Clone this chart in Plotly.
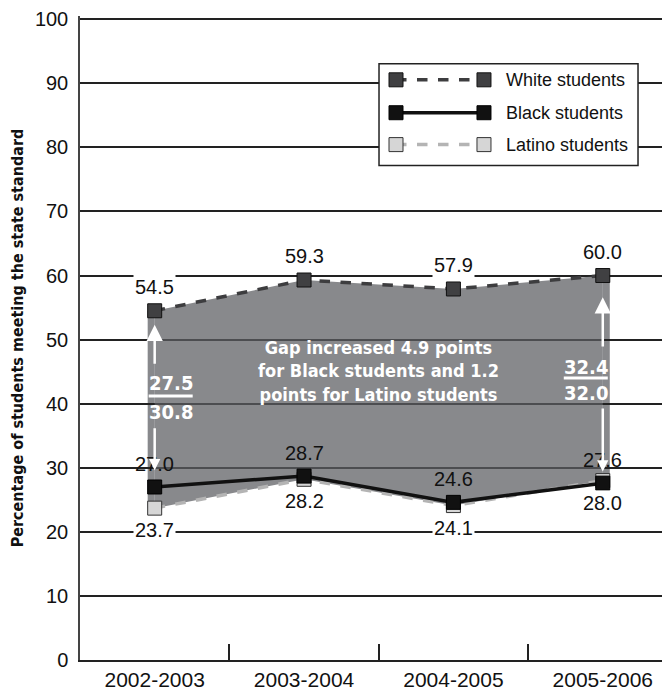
import plotly.graph_objects as go

years = ["2002-2003", "2003-2004", "2004-2005", "2005-2006"]
white = [54.5, 59.3, 57.9, 60.0]
black = [27.0, 28.7, 24.6, 27.6]
latino = [23.7, 28.2, 24.1, 28.0]
series_names = ["White students", "Black students", "Latino students"]
gap_first = ["27.5", "30.8"]
gap_last = ["32.4", "32.0"]
note = "Gap increased 4.9 points<br>for Black students and 1.2<br>points for Latino students"

num_font = "Liberation Sans, Arial, sans-serif"
cond_font = "DejaVu Sans Condensed, Liberation Sans Narrow, Liberation Sans, sans-serif"

fill_col = "rgba(92,93,98,0.73)"
styles = {
    "White students": dict(line="#3d3d3f", dash="dash", mk="#404042", edge="#111111"),
    "Black students": dict(line="#111111", dash="solid", mk="#111111", edge="#000000"),
    "Latino students": dict(line="#b4b4b4", dash="dash", mk="#d6d6d6", edge="#333333"),
}

fig = go.Figure()

# shaded gap between White and Latino lines
fig.add_trace(go.Scatter(
    x=years + years[::-1], y=white + latino[::-1],
    fill="toself", fillcolor=fill_col, mode="none",
    showlegend=False, hoverinfo="skip"))

for name, vals in [("Latino students", latino), ("Black students", black),
                   ("White students", white)]:
    s = styles[name]
    fig.add_trace(go.Scatter(
        x=years, y=vals, name=name, mode="lines+markers", showlegend=False,
        line=dict(color=s["line"], width=3.5, dash=s["dash"]),
        marker=dict(symbol="square", size=14, color=s["mk"],
                    line=dict(color=s["edge"], width=1))))

ann = []
for yr, v in zip(years, white):
    ann.append(dict(x=yr, y=v, text=f"{v:.1f}", yshift=24, showarrow=False,
                    bgcolor="white", borderpad=1,
                    font=dict(family=num_font, size=20, color="#111")))
for yr, v in zip(years, black):
    ann.append(dict(x=yr, y=v, text=f"{v:.1f}", yshift=23, showarrow=False,
                    font=dict(family=num_font, size=20, color="#111")))
for yr, v in zip(years, latino):
    ann.append(dict(x=yr, y=v, text=f"{v:.1f}", yshift=-22, showarrow=False,
                    bgcolor="white", borderpad=1,
                    font=dict(family=num_font, size=20, color="#111")))

ann.append(dict(x=1.5, y=45.1, xref="x", yref="y", text=note, showarrow=False,
                font=dict(family=cond_font, size=18, color="white", weight="bold")))

# gap fractions with arrows
gap_marks = [
    dict(yr=years[0], txt=gap_first, shift=16, t_y=(43.2, 38.7), bar=41.2,
         up=(52.3, 46.0), down=(36.4, 29.6)),
    dict(yr=years[3], txt=gap_last, shift=-17, t_y=(45.7, 41.7), bar=44.0,
         up=(56.6, 48.7), down=(39.5, 29.4)),
]
shapes = []
for g in gap_marks:
    yr = g["yr"]
    ann.append(dict(x=yr, y=g["up"][0], ax=yr, ay=g["up"][1], axref="x", ayref="y",
                    text="", showarrow=True, arrowhead=2, arrowsize=1.3,
                    arrowwidth=2.5, arrowcolor="white"))
    ann.append(dict(x=yr, y=g["down"][1], ax=yr, ay=g["down"][0], axref="x", ayref="y",
                    text="", showarrow=True, arrowhead=2, arrowsize=0.9,
                    arrowwidth=2.5, arrowcolor="white"))
    for t, ty in zip(g["txt"], g["t_y"]):
        ann.append(dict(x=yr, y=ty, text=t, xshift=g["shift"], showarrow=False,
                        font=dict(family=cond_font, size=20, color="white",
                                  weight="bold")))
    shapes.append(dict(type="line", xref="x", yref="y", xsizemode="pixel",
                       xanchor=yr, x0=g["shift"] - 22, x1=g["shift"] + 22,
                       y0=g["bar"], y1=g["bar"], line=dict(color="white", width=3)))

# extend the shaded band a little past the first and last markers
for i, side in [(0, -1), (len(years) - 1, 1)]:
    shapes.append(dict(type="rect", xref="x", yref="y", xsizemode="pixel",
                       xanchor=years[i], x0=0, x1=7 * side,
                       y0=latino[i], y1=white[i], fillcolor=fill_col,
                       line=dict(width=0), layer="below"))

# top gridline
shapes.append(dict(type="line", xref="paper", yref="y", x0=0, x1=1, y0=100, y1=100,
                   line=dict(color="#222", width=1.5), layer="above"))

# hand-drawn legend (line with a square at each end)
lx0, lx1, ltext = 0.5356, 0.6847, 0.7186
rows = [0.9009, 0.8498, 0.8003]
legend_top, legend_bot, legend_l, legend_r = 0.9257, 0.7678, 0.5068, 0.9458
shapes.append(dict(type="rect", xref="paper", yref="paper", x0=legend_l, x1=legend_r,
                   y0=legend_bot, y1=legend_top, fillcolor="white",
                   line=dict(color="#222", width=1.5), layer="above"))
for name, ry in zip(series_names, rows):
    s = styles[name]
    shapes.append(dict(type="line", xref="paper", yref="paper", x0=lx0, x1=lx1,
                       y0=ry, y1=ry, layer="above",
                       line=dict(color=s["line"], width=3.5, dash=s["dash"])))
    for lx in (lx0, lx1):
        shapes.append(dict(type="rect", xref="paper", yref="paper",
                           xsizemode="pixel", ysizemode="pixel",
                           xanchor=lx, yanchor=ry, x0=-7, x1=7, y0=-7, y1=7,
                           fillcolor=s["mk"], layer="above",
                           line=dict(color=s["edge"], width=1)))
    ann.append(dict(x=ltext, y=ry, xref="paper", yref="paper", text=name,
                    xanchor="left", yanchor="middle", showarrow=False,
                    font=dict(family=num_font, size=18, color="#111")))

fig.update_layout(annotations=ann, shapes=shapes)

# page body has an 8px margin, so the figure is shrunk to fit the window
fig.update_layout(
    width=662, height=683,
    margin=dict(l=72, r=0, t=7, b=30),
    plot_bgcolor="white", paper_bgcolor="white",
    font=dict(family=num_font, size=19, color="#111"),
    showlegend=False,
    xaxis=dict(range=[-0.5, 3.45], showgrid=False, showline=True,
               linecolor="#222", linewidth=2, ticks="inside", ticklen=16,
               tickwidth=2, tickcolor="#222", tickson="boundaries",
               tickfont=dict(size=21), fixedrange=True),
    yaxis=dict(range=[0, 100.5], tickvals=list(range(0, 101, 10)),
               showgrid=True, gridcolor="#222",
               gridwidth=1.5, showline=True, linecolor="#444", linewidth=1.5,
               zeroline=False, ticks="", ticklabelstandoff=6,
               ticklabeloverflow="allow",
               tickfont=dict(size=20),
               title=dict(text="Percentage of students meeting the state standard",
                          font=dict(family=cond_font, size=16, color="#111",
                                    weight="bold"),
                          standoff=14),
               fixedrange=True),
)

fig.write_html("out.html")
